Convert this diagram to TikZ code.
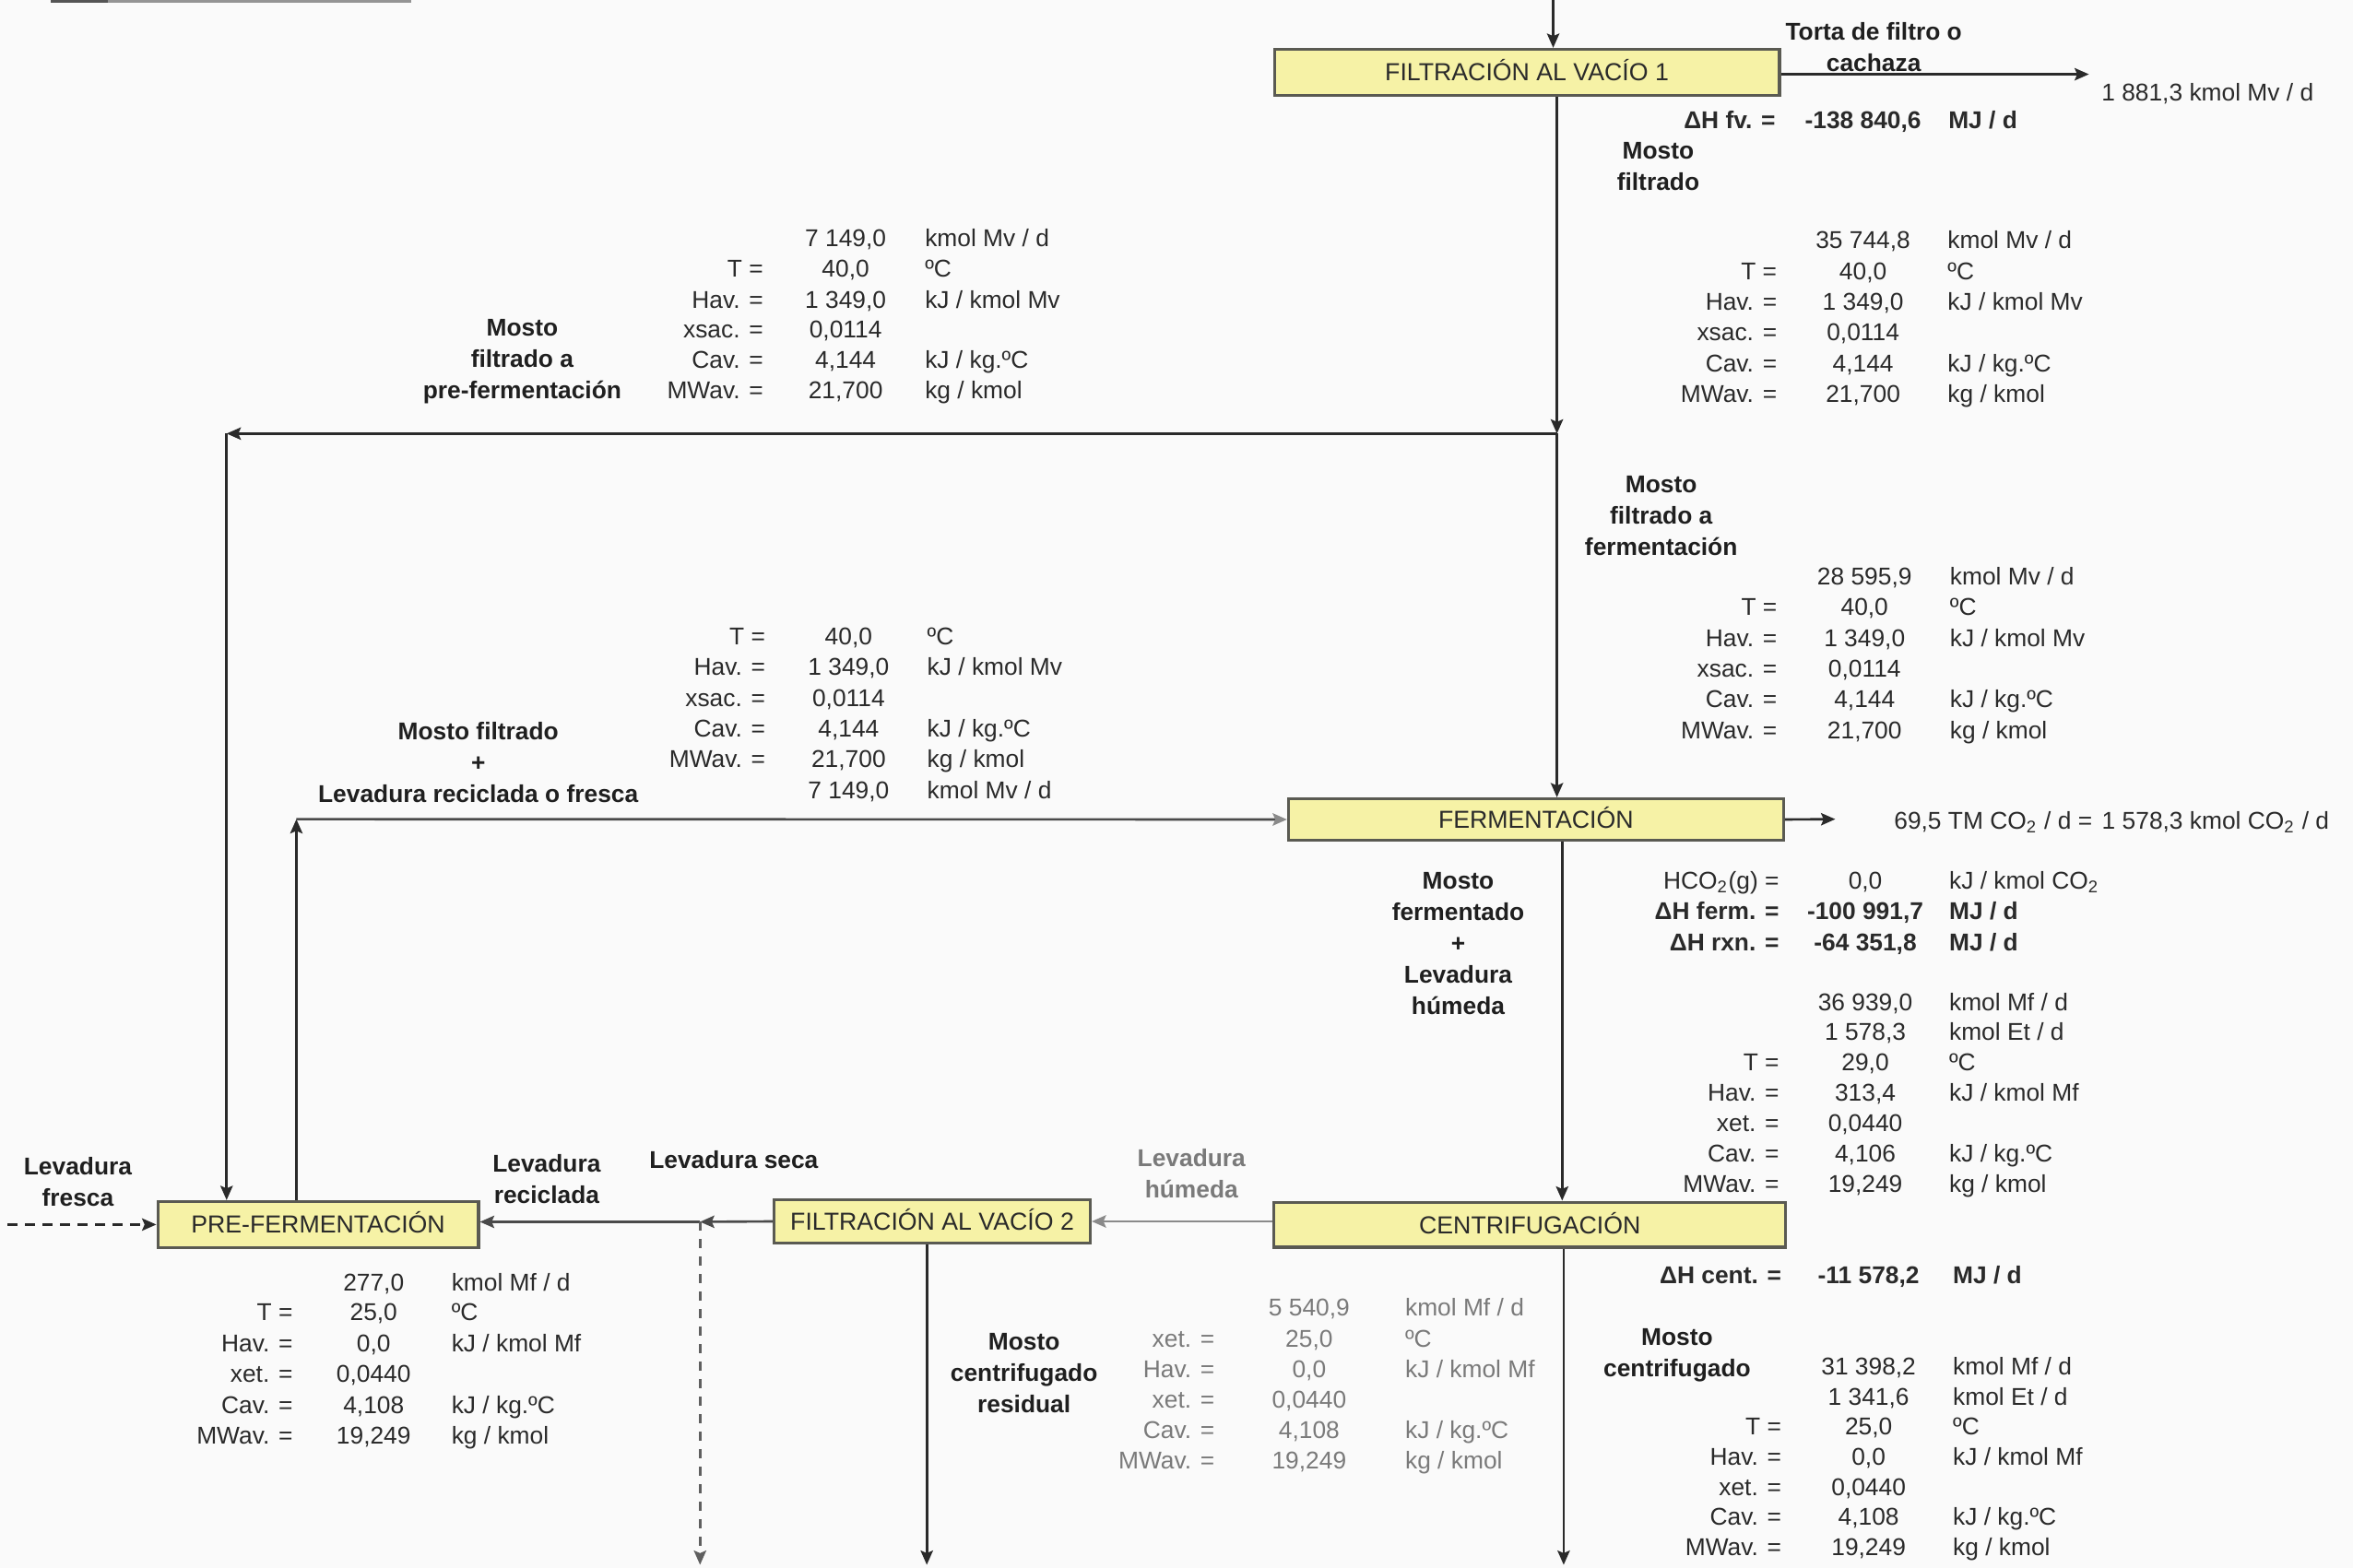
\documentclass[tikz,border=0pt]{standalone}
\usepackage{fontspec}
\setmainfont{Liberation Sans}
\usetikzlibrary{arrows.meta}

\definecolor{ink}{HTML}{2A2A2A}
\definecolor{softink}{HTML}{7A7A7A}
\definecolor{paper}{HTML}{FAFAFA}
\definecolor{boxfill}{HTML}{F6F2A6}
\definecolor{boxline}{HTML}{5A5A52}

% column positions of a data table: "label =" right edge, value centre, unit left edge
\newcommand\setcols[3]{\def\colL{#1}\def\colV{#2}\def\colU{#3}}
% one table row: name, y, label, value, unit
\newcommand\drow[5]{%
  \node[lab] (#1-l) at (\colL,#2) {#3};
  \node[val] (#1-v) at (\colV,#2) {#4};
  \node[uni] (#1-u) at (\colU,#2) {#5};}

\tikzset{
  every node/.style={font=\fontsize{7.5}{9.7}\selectfont, text=ink, inner sep=0pt},
  dat/.style={text height=5.37pt, text depth=0pt},
  lab/.style={dat, anchor=east},
  val/.style={dat, anchor=center},
  uni/.style={dat, anchor=west},
  strmlabel/.style={font=\fontsize{7.5}{9.7}\selectfont\bfseries, align=center, anchor=north, text=black!88},
  procbox/.style={draw=boxline, line width=0.9pt, fill=boxfill, dat, font=\fontsize{7.6}{9}\selectfont, text=ink},
  flowtip/.style={-{Stealth[length=4.4pt,width=3.8pt,inset=0.8pt]}},
  flow/.style={draw=ink, line width=0.75pt, flowtip},
  paleflow/.style={draw=ink!55, line width=0.75pt, -{Stealth[length=4.4pt,width=3.8pt,inset=0.8pt,color=ink!55]}},
}

\begin{document}
\begin{tikzpicture}[x=0.016276cm, y=-0.016276cm]
\fill[paper] (0,0) rectangle (1568,1045);
\useasboundingbox (0,0) rectangle (1568,1045);

% remnant of a rule at the top edge
\draw[ink!80, line width=1.1pt] (34,0.8) -- (72,0.8);
\draw[ink!50, line width=1.1pt] (72,0.8) -- (274,0.8);

% ---------------- process units ----------------
\node[procbox, minimum width=5.48cm, minimum height=0.50cm] (fv1)  at (1017.5,48.2)  {FILTRACIÓN AL VACÍO 1};
\node[procbox, minimum width=5.37cm, minimum height=0.45cm] (ferm) at (1023.5,546.2) {FERMENTACIÓN};
\node[procbox, minimum width=5.55cm, minimum height=0.49cm] (cent) at (1019.5,816.3) {CENTRIFUGACIÓN};
\node[procbox, minimum width=3.43cm, minimum height=0.47cm] (fv2)  at (621.2,814.1)  {FILTRACIÓN AL VACÍO 2};
\node[procbox, minimum width=3.48cm, minimum height=0.50cm] (pre)  at (212,816.2)    {PRE-FERMENTACIÓN};

% ---------------- stream coordinates ----------------
\coordinate (feed)     at (1035,0);
\coordinate (cake)     at (1392,49.5);
\coordinate (split)    at (1037.5,289);
\coordinate (preturn)  at (151,289);
\coordinate (mixup)    at (197.5,546);
\coordinate (co2)      at (1223,546);
\coordinate (mainx)    at (1041,0);
\coordinate (dry)      at (466.5,814.4);
\coordinate (dryout)   at (466.5,1043);
\coordinate (residout) at (617.6,1043);
\coordinate (centout)  at (1042,1043);
\coordinate (fresh)    at (5,816.2);

% ---------------- connectors ----------------
\draw[flow] (feed) -- (feed |- fv1.north);
\draw[flow] (cake -| fv1.east) -- (cake);
\draw[flow] (split |- fv1.south) -- (split);
\draw[flow] (split) -- (split |- ferm.north);
\draw[flow] (split) -- (preturn);
\draw[flow] (preturn) -- (preturn |- pre.north);
\draw[flow] (mixup |- pre.north) -- (mixup);
\draw[paleflow, draw=ink!85] (mixup) -- (ferm.west);
\draw[flow] (ferm.east) -- (co2);
\draw[flow] (mainx |- ferm.south) -- (mainx |- cent.north);
\draw[flow] (centout |- cent.south) -- (centout);
\draw[paleflow] (cent.west |- fv2.east) -- (fv2.east);
\draw[flow, draw=ink!85] (fv2.west) -- (dry);
\draw[flow, draw=ink!85] (dry) -- (pre.east |- dry);
\draw[flow, draw=ink!75, dash pattern=on 2.8pt off 2.6pt] (dry) -- (dryout);
\draw[flow] (residout |- fv2.south) -- (residout);
\draw[flow, dash pattern=on 3.2pt off 2.2pt] (fresh) -- (pre.west);

% ---------------- stream labels ----------------
\node[strmlabel] (cakelab)  at (1248.6,14.7)  {Torta de filtro o\\cachaza};
\node[uni]       (cakeflow) at (1400,61.4)    {1 881,3 kmol Mv / d};
\node[strmlabel] (mflab)    at (1105,94.6)    {Mosto\\filtrado};
\node[strmlabel] (mprelab)  at (348,212.2)    {Mosto\\filtrado a\\pre-fermentación};
\node[strmlabel] (mfermlab) at (1107,316.8)   {Mosto\\filtrado a\\fermentación};
\node[strmlabel] (mixlab)   at (318.7,480.6)  {Mosto filtrado\\+\\Levadura reciclada o fresca};
\node[uni]       (co2lab)   at (1261.8,546.8) {69,5 TM CO\textsubscript{2} / d =\hspace{3pt}1 578,3 kmol CO\textsubscript{2} / d};
\node[strmlabel] (fermout)  at (971.7,581)    {Mosto\\fermentado\\+\\Levadura\\húmeda};
\node[strmlabel, text=softink] (wetlab) at (794,765.2) {Levadura\\húmeda};
\node[dat, font=\fontsize{7.5}{9.7}\selectfont\bfseries, text=black!88] (drylab) at (489,773) {Levadura seca};
\node[strmlabel] (recylab)  at (364.3,769)    {Levadura\\reciclada};
\node[strmlabel] (freshlab) at (51.9,771)     {Levadura\\fresca};
\node[strmlabel] (residlab) at (682.4,888.2)  {Mosto\\centrifugado\\residual};
\node[strmlabel] (centlab)  at (1117.6,885.2) {Mosto\\centrifugado};

% ---------------- data tables ----------------
% vacuum filter 1 duty
\setcols{1183.5}{1241.5}{1298}
\drow{hfv}{80}{\textbf{ΔH fv. =}}{\textbf{-138 840,6}}{\textbf{MJ / d}}

% filtered must
\setcols{1184.5}{1241.5}{1297.5}
\drow{a1}{160}{}{35 744,8}{kmol Mv / d}
\drow{a2}{180.5}{T =}{40,0}{ºC}
\drow{a3}{201}{Hav. =}{1 349,0}{kJ / kmol Mv}
\drow{a4}{221.5}{xsac. =}{0,0114}{}
\drow{a5}{242}{Cav. =}{4,144}{kJ / kg.ºC}
\drow{a6}{262.5}{MWav. =}{21,700}{kg / kmol}

% must to pre-fermentation
\setcols{509}{563.5}{616}
\drow{b1}{158.5}{}{7 149,0}{kmol Mv / d}
\drow{b2}{179}{T =}{40,0}{ºC}
\drow{b3}{199.5}{Hav. =}{1 349,0}{kJ / kmol Mv}
\drow{b4}{219.5}{xsac. =}{0,0114}{}
\drow{b5}{239.5}{Cav. =}{4,144}{kJ / kg.ºC}
\drow{b6}{260}{MWav. =}{21,700}{kg / kmol}

% must to fermentation
\setcols{1184.6}{1242.5}{1299}
\drow{c1}{384}{}{28 595,9}{kmol Mv / d}
\drow{c2}{404.5}{T =}{40,0}{ºC}
\drow{c3}{425}{Hav. =}{1 349,0}{kJ / kmol Mv}
\drow{c4}{445.5}{xsac. =}{0,0114}{}
\drow{c5}{466}{Cav. =}{4,144}{kJ / kg.ºC}
\drow{c6}{486.6}{MWav. =}{21,700}{kg / kmol}

% must plus yeast to fermentation
\setcols{510.4}{565.5}{617.5}
\drow{d1}{424}{T =}{40,0}{ºC}
\drow{d2}{444.5}{Hav. =}{1 349,0}{kJ / kmol Mv}
\drow{d3}{465}{xsac. =}{0,0114}{}
\drow{d4}{485.5}{Cav. =}{4,144}{kJ / kg.ºC}
\drow{d5}{506}{MWav. =}{21,700}{kg / kmol}
\drow{d6}{526.3}{}{7 149,0}{kmol Mv / d}

% fermentation
\setcols{1186}{1243}{1298.5}
\drow{e1}{586.8}{HCO\textsubscript{2}(g) =}{0,0}{kJ / kmol CO\textsubscript{2}}
\drow{e2}{607}{\textbf{ΔH ferm. =}}{\textbf{-100 991,7}}{\textbf{MJ / d}}
\drow{e3}{627.7}{\textbf{ΔH rxn. =}}{\textbf{-64 351,8}}{\textbf{MJ / d}}
\drow{f1}{667.7}{}{36 939,0}{kmol Mf / d}
\drow{f2}{687.5}{}{1 578,3}{kmol Et / d}
\drow{f3}{707.8}{T =}{29,0}{ºC}
\drow{f4}{728}{Hav. =}{313,4}{kJ / kmol Mf}
\drow{f5}{748.3}{xet. =}{0,0440}{}
\drow{f6}{768.8}{Cav. =}{4,106}{kJ / kg.ºC}
\drow{f7}{789}{MWav. =}{19,249}{kg / kmol}

% centrifuge
\setcols{1187.5}{1245.2}{1301}
\drow{g0}{850}{\textbf{ΔH cent. =}}{\textbf{-11 578,2}}{\textbf{MJ / d}}
\drow{g1}{910.3}{}{31 398,2}{kmol Mf / d}
\drow{g2}{930.8}{}{1 341,6}{kmol Et / d}
\drow{g3}{950.8}{T =}{25,0}{ºC}
\drow{g4}{971}{Hav. =}{0,0}{kJ / kmol Mf}
\drow{g5}{991}{xet. =}{0,0440}{}
\drow{g6}{1011}{Cav. =}{4,108}{kJ / kg.ºC}
\drow{g7}{1031.3}{MWav. =}{19,249}{kg / kmol}

% wet yeast
\begin{scope}[every node/.append style={text=softink}]
\setcols{809.8}{872.4}{936}
\drow{h1}{871}{}{5 540,9}{kmol Mf / d}
\drow{h2}{892}{xet. =}{25,0}{ºC}
\drow{h3}{912.4}{Hav. =}{0,0}{kJ / kmol Mf}
\drow{h4}{932.7}{xet. =}{0,0440}{}
\drow{h5}{952.7}{Cav. =}{4,108}{kJ / kg.ºC}
\drow{h6}{973.3}{MWav. =}{19,249}{kg / kmol}
\end{scope}

% pre-fermentation
\setcols{195.5}{249}{300.5}
\drow{k1}{854.5}{}{277,0}{kmol Mf / d}
\drow{k2}{874.5}{T =}{25,0}{ºC}
\drow{k3}{895.3}{Hav. =}{0,0}{kJ / kmol Mf}
\drow{k4}{915.5}{xet. =}{0,0440}{}
\drow{k5}{936.4}{Cav. =}{4,108}{kJ / kg.ºC}
\drow{k6}{956.4}{MWav. =}{19,249}{kg / kmol}

\end{tikzpicture}
\end{document}
